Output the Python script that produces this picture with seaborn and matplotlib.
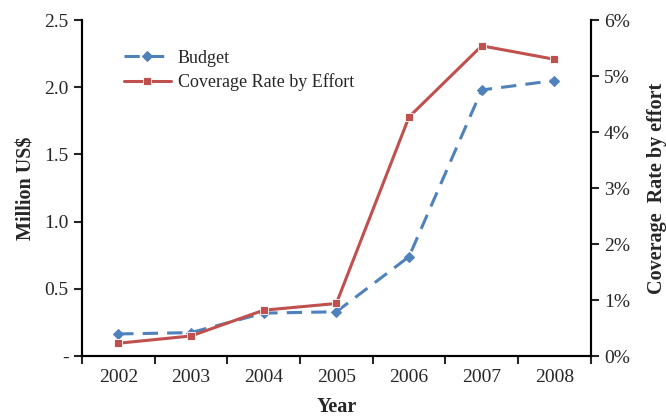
import matplotlib
matplotlib.use("Agg")
import matplotlib.pyplot as plt
import seaborn as sns
import numpy as np
import pandas as pd
from matplotlib.ticker import FuncFormatter

years = ["2002", "2003", "2004", "2005", "2006", "2007", "2008"]
budget = [0.165, 0.175, 0.32, 0.33, 0.74, 1.98, 2.05]
coverage = [0.23, 0.36, 0.82, 0.94, 4.27, 5.54, 5.30]

blue = "#4F81BD"
red = "#C0504D"

df = pd.DataFrame({"pos": np.arange(len(years)), "Year": years,
                   "Budget": budget, "Coverage": coverage})

sns.set_style("white")
plt.rcParams['font.family'] = ['Liberation Serif', 'DejaVu Serif']
plt.rcParams['axes.linewidth'] = 1.5

fig, ax = plt.subplots(figsize=(6.66, 4.18), dpi=100)
ax2 = ax.twinx()

sns.lineplot(data=df, x="pos", y="Budget", ax=ax, color=blue, linewidth=2.2,
             marker="D", markersize=5, markeredgecolor=blue, label="Budget", legend=False)
ax.lines[-1].set_dashes([5, 3])
sns.lineplot(data=df, x="pos", y="Coverage", ax=ax2, color=red, linewidth=2.2,
             marker="s", markersize=6, markeredgecolor="white", markeredgewidth=0.6,
             label="Coverage Rate by Effort", legend=False)

ax.set_xlim(-0.5, len(years) - 0.5)
ax.set_ylim(0, 2.5)
ax2.set_ylim(0, 6)

# ticks at category boundaries, labels at centres
ax.set_xticks(np.arange(-0.5, len(years), 1.0))
ax.set_xticklabels([])
ax.set_xticks(np.arange(len(years)), minor=True)
ax.set_xticklabels(years, minor=True)
ax.tick_params(axis="x", which="major", direction="out", length=6, width=1.5, bottom=True)
ax.tick_params(axis="x", which="minor", length=0, labelsize=14, pad=9)

ax.set_yticks([0, 0.5, 1.0, 1.5, 2.0, 2.5])
ax.yaxis.set_major_formatter(FuncFormatter(lambda v, p: "-" if v == 0 else f"{v:.1f}"))
ax.tick_params(axis="y", direction="out", length=6, width=1.5, left=True, labelsize=14)

ax2.set_yticks(range(0, 7))
ax2.yaxis.set_major_formatter(FuncFormatter(lambda v, p: f"{int(v)}%"))
ax2.tick_params(axis="y", direction="out", length=6, width=1.5, right=True, labelsize=14)

for a in (ax, ax2):
    a.spines["top"].set_visible(False)
    for s in ("left", "right", "bottom"):
        a.spines[s].set_color("black")
        a.spines[s].set_linewidth(1.5)

ax.set_xlabel("Year", fontsize=14.5, fontweight="bold", labelpad=8)
ax.set_ylabel("Million US$", fontsize=14.5, fontweight="bold", labelpad=6)
ax2.set_ylabel("Coverage  Rate by effort", fontsize=14.5, fontweight="bold", labelpad=12)

h1, l1 = ax.get_legend_handles_labels()
h2, l2 = ax2.get_legend_handles_labels()
leg = ax.legend(h1 + h2, l1 + l2, loc="upper left", bbox_to_anchor=(0.05, 0.96),
                frameon=False, fontsize=13, handlelength=2.6, handletextpad=0.4,
                labelspacing=0.35)

fig.subplots_adjust(left=0.123, right=0.887, top=0.952, bottom=0.148)
fig.savefig("out.png", dpi=100)
